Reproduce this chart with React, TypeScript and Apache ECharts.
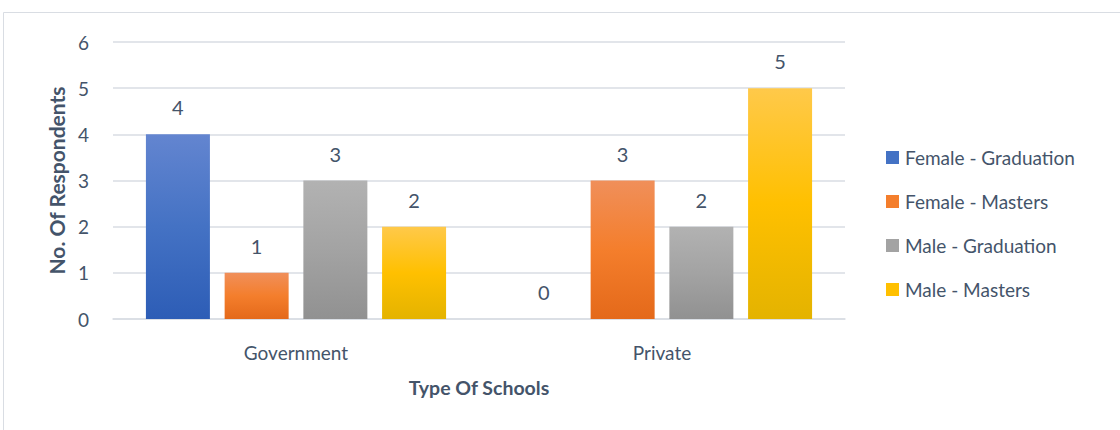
import React, { useEffect, useRef } from "react";
import * as echarts from "echarts";

const categories = ["Government", "Private"];
const seriesNames = ["Female - Graduation", "Female - Masters", "Male - Graduation", "Male - Masters"];
const femaleGraduation = [4, 0];
const femaleMasters = [1, 3];
const maleGraduation = [3, 2];
const maleMasters = [2, 5];
const yTicks = [0, 1, 2, 3, 4, 5, 6];

const gradients = [
  ["#6385d0", "#4472c4", "#2d5db6"],
  ["#f08f5a", "#f47e2c", "#e4691a"],
  ["#b2b2b2", "#a3a3a3", "#919191"],
  ["#ffc94a", "#ffc000", "#e4b300"],
];

const TEXT = "#44546A";
const FONT = "Lato";

export default function App() {
  const ref = useRef<HTMLDivElement>(null);
  useEffect(() => {
    if (!ref.current) return;
    const chart = echarts.init(ref.current, undefined, { renderer: "svg" });
    const values = [femaleGraduation, femaleMasters, maleGraduation, maleMasters];
    const mkGrad = (c: string[]) =>
      new echarts.graphic.LinearGradient(0, 0, 0, 1, [
        { offset: 0, color: c[0] },
        { offset: 0.5, color: c[1] },
        { offset: 1, color: c[2] },
      ]);
    chart.setOption({
      animation: false,
      backgroundColor: "#ffffff",
      textStyle: { fontFamily: FONT },
      grid: { left: 113, right: 275, top: 42, bottom: 111, containLabel: false },
      graphic: [
        {
          type: "rect",
          shape: { x: 3.5, y: 12.5, width: 1130, height: 430 },
          style: { fill: "none", stroke: "#d9dde3", lineWidth: 1 },
          silent: true,
        },
      ],
      legend: {
        orient: "vertical",
        left: 881,
        top: 143,
        itemWidth: 13,
        itemHeight: 13,
        itemGap: 25,
        icon: "rect",
        textStyle: { fontFamily: FONT, fontSize: 19, color: TEXT, padding: [0, 0, 0, 1] },
        data: seriesNames.map((n, i) => ({ name: n, itemStyle: { color: gradients[i][1] } })),
      },
      xAxis: {
        type: "category",
        data: categories,
        name: "Type Of Schools",
        nameLocation: "middle",
        nameGap: 58,
        nameTextStyle: { fontFamily: FONT, fontSize: 19.5, fontWeight: "bold", color: TEXT },
        axisLine: { lineStyle: { color: "#d9dde3", width: 1.5 } },
        axisTick: { show: false },
        axisLabel: { fontFamily: FONT, fontSize: 19, color: TEXT, margin: 24 },
      },
      yAxis: {
        type: "value",
        min: yTicks[0],
        max: yTicks[yTicks.length - 1],
        interval: 1,
        name: "No. Of Respondents",
        nameLocation: "middle",
        nameGap: 45,
        nameTextStyle: { fontFamily: FONT, fontSize: 21, fontWeight: "bold", color: TEXT },
        axisLine: { show: false },
        axisTick: { show: false },
        axisLabel: { fontFamily: FONT, fontSize: 19, color: TEXT, margin: 24 },
        splitLine: { lineStyle: { color: "#d9dde3", width: 1.5 } },
      },
      series: seriesNames.map((n, i) => ({
        name: n,
        type: "bar",
        data: values[i],
        barWidth: 64,
        barGap: "23%",
        itemStyle: { color: mkGrad(gradients[i]) },
        label: {
          show: true,
          position: "top",
          distance: 17,
          fontFamily: FONT,
          fontSize: 20,
          color: TEXT,
        },
      })),
    });
    return () => chart.dispose();
  }, []);
  return (
    <div
      ref={ref}
      style={{ position: "fixed", left: 0, top: 0, width: 1120, height: 430 }}
    />
  );
}
